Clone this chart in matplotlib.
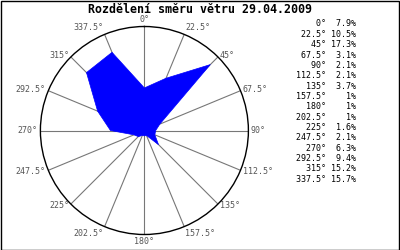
import numpy as np
import matplotlib

matplotlib.use("Agg")
import matplotlib.pyplot as plt
from matplotlib.patches import Rectangle

TITLE = "Rozdělení směru větru 29.04.2009"
ANGLE_LABELS = ["0", "22.5", "45", "67.5", "90", "112.5", "135", "157.5",
                "180", "202.5", "225", "247.5", "270", "292.5", "315", "337.5"]
ANGLES_DEG = [0, 22.5, 45, 67.5, 90, 112.5, 135, 157.5,
              180, 202.5, 225, 247.5, 270, 292.5, 315, 337.5]
PERCENT = [7.9, 10.5, 17.3, 3.1, 2.1, 2.1, 3.7, 1, 1, 1, 1.6, 2.1, 6.3, 9.4, 15.2, 15.7]
PERCENT_LABELS = ["7.9", "10.5", "17.3", "3.1", "2.1", "2.1", "3.7", "1",
                  "1", "1", "1.6", "2.1", "6.3", "9.4", "15.2", "15.7"]

MONO = "DejaVu Sans Mono"
RMAX = 19.3

fig = plt.figure(figsize=(4, 2.5), dpi=100)
fig.add_artist(Rectangle((0.0015, 0.002), 0.997, 0.996, transform=fig.transFigure,
                         fill=False, edgecolor="black", linewidth=1))

fig.text(0.5, 0.963, TITLE, ha="center", va="center", fontsize=8.4,
         fontweight="bold", family=MONO)

ax = fig.add_axes([0.101, 0.062, 0.52, 0.832], projection="polar")
ax.set_theta_zero_location("N")
ax.set_theta_direction(-1)

theta = np.deg2rad(ANGLES_DEG)
ax.fill(np.append(theta, theta[0]), np.append(PERCENT, PERCENT[0]),
        facecolor="#0000ff", edgecolor="#0000ff", linewidth=0.5, zorder=3)

ax.set_ylim(0, RMAX)
ax.set_yticks([])
ax.set_thetagrids(ANGLES_DEG, [""] * len(ANGLES_DEG))
ax.grid(True, color="#777777", linewidth=0.8)
ax.spines["polar"].set_color("black")
ax.spines["polar"].set_linewidth(1)

# angle labels just outside the circle
for t, a in zip(theta, ANGLE_LABELS):
    s, c = np.sin(t), np.cos(t)
    ha = "left" if s > 0.1 else ("right" if s < -0.1 else "center")
    va = "bottom" if c > 0.9 else ("top" if c < -0.9 else "center")
    ax.text(t, RMAX * 1.025, f"{a}°", ha=ha, va=va, fontsize=6, family=MONO,
            color="#555555", clip_on=False)

# legend on the right
y0 = 250 - 24
for i, (a, p) in enumerate(zip(ANGLE_LABELS, PERCENT_LABELS)):
    line = f"{a:>5}°{p:>5}%"
    fig.text(356 / 400, (y0 - i * 10.35) / 250, line, ha="right", va="center",
             fontsize=6, family=MONO, color="black")

fig.savefig("out.png", dpi=100)
